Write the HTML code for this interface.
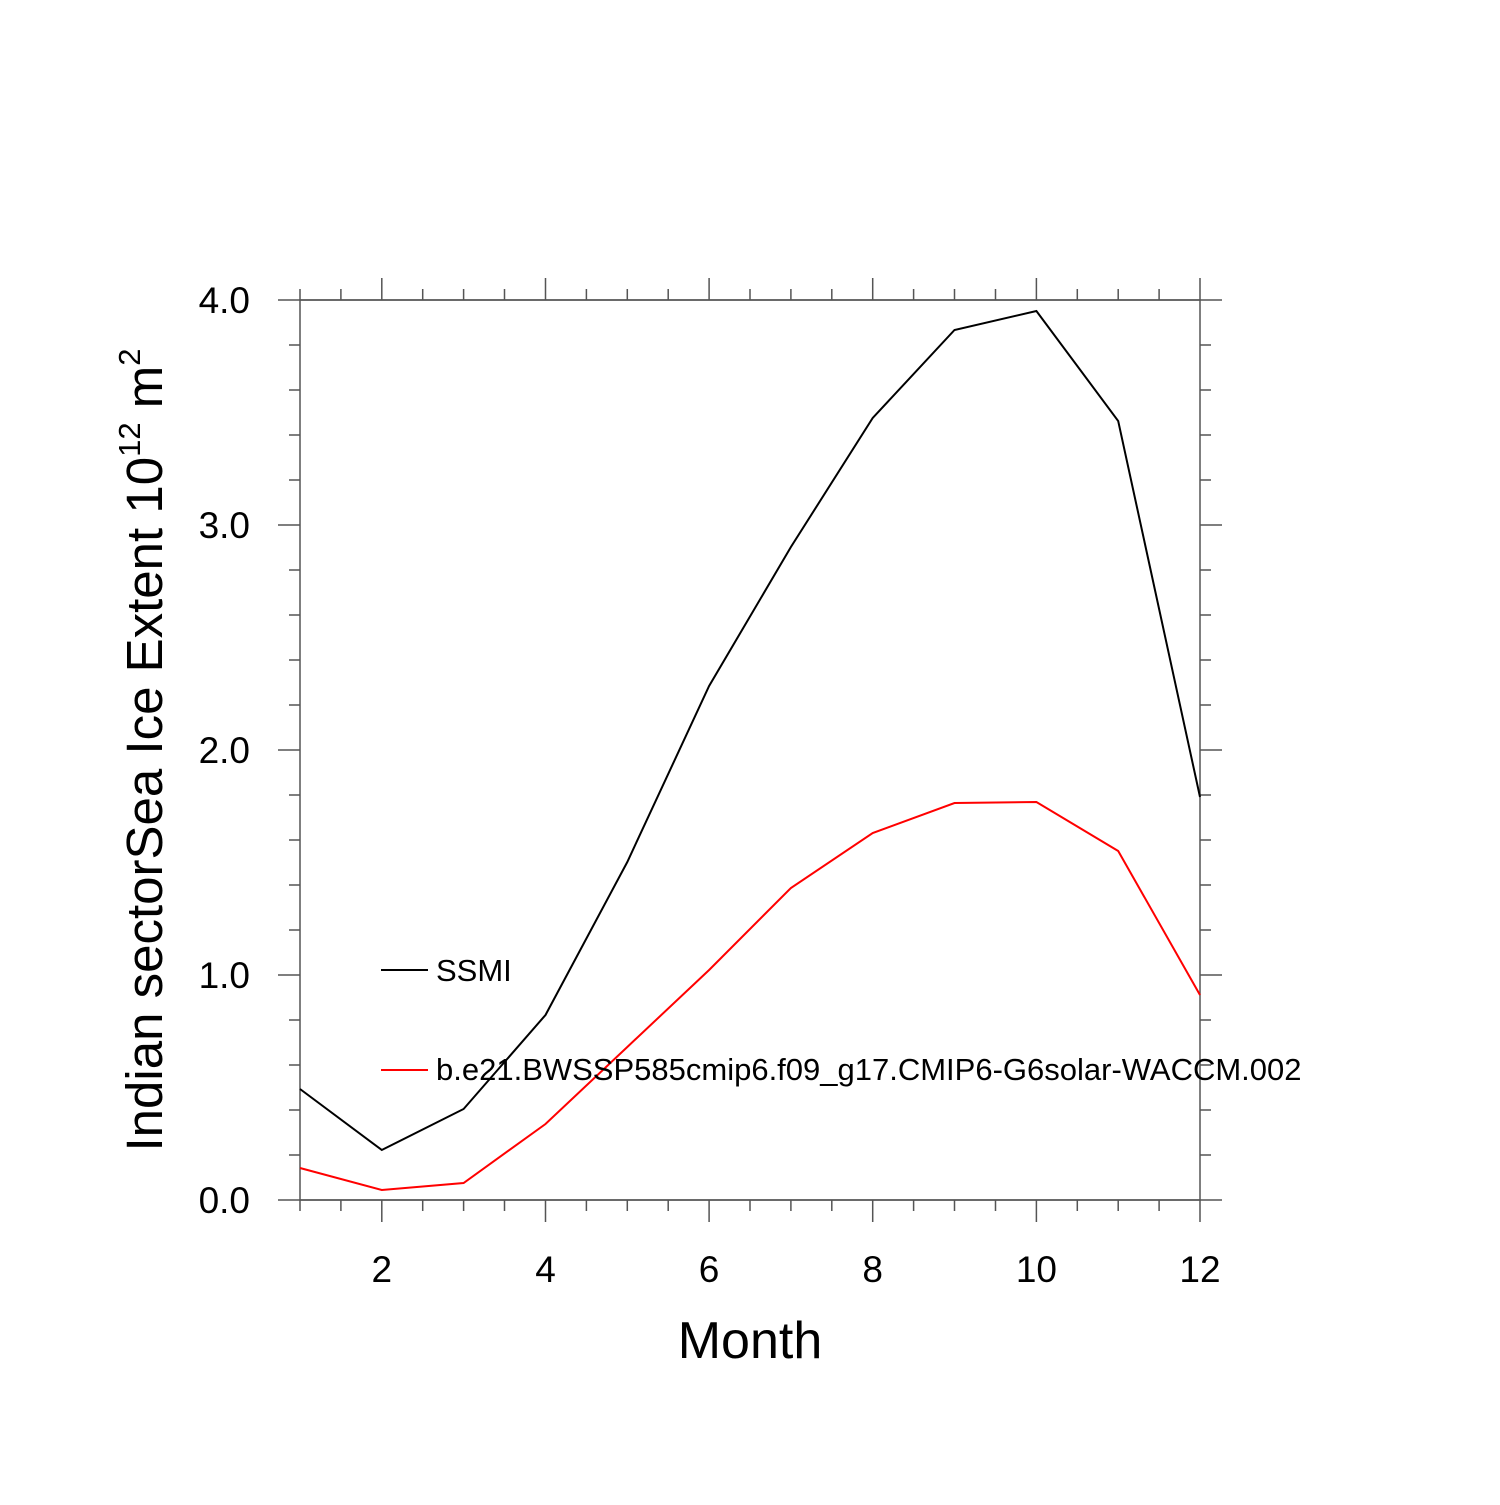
<!DOCTYPE html>
<html><head><style>body{margin:0;background:#fff}</style></head><body>
<svg width="1500" height="1500" xmlns="http://www.w3.org/2000/svg" font-family="Liberation Sans, sans-serif">
<rect width="1500" height="1500" fill="#fff"/>
<g stroke="#555" stroke-width="1.5" fill="none">
<rect x="300" y="300" width="900" height="900"/>
<path d="M278 300H1222M278 525H300M278 750H300M278 975H300M278 1200H1222M1200 525H1222M1200 750H1222M1200 975H1222
M381.8 278V300M545.5 278V300M709.1 278V300M872.7 278V300M1036.4 278V300M1200 278V300
M381.8 1200V1222M545.5 1200V1222M709.1 1200V1222M872.7 1200V1222M1036.4 1200V1222M1200 1200V1222
M300 289V300M340.9 289V300M422.7 289V300M463.6 289V300M504.5 289V300M586.4 289V300M627.3 289V300M668.2 289V300M750 289V300M790.9 289V300M831.8 289V300M913.6 289V300M954.5 289V300M995.5 289V300M1077.3 289V300M1118.2 289V300M1159.1 289V300
M300 1200V1211M340.9 1200V1211M422.7 1200V1211M463.6 1200V1211M504.5 1200V1211M586.4 1200V1211M627.3 1200V1211M668.2 1200V1211M750 1200V1211M790.9 1200V1211M831.8 1200V1211M913.6 1200V1211M954.5 1200V1211M995.5 1200V1211M1077.3 1200V1211M1118.2 1200V1211M1159.1 1200V1211
M289 345H300M289 390H300M289 435H300M289 480H300M289 570H300M289 615H300M289 660H300M289 705H300M289 795H300M289 840H300M289 885H300M289 930H300M289 1020H300M289 1065H300M289 1110H300M289 1155H300
M1200 345H1211M1200 390H1211M1200 435H1211M1200 480H1211M1200 570H1211M1200 615H1211M1200 660H1211M1200 705H1211M1200 795H1211M1200 840H1211M1200 885H1211M1200 930H1211M1200 1020H1211M1200 1065H1211M1200 1110H1211M1200 1155H1211"/>
</g>
<polyline fill="none" stroke="#000" stroke-width="2" points="300,1089 381.8,1150 463.6,1109 545.5,1015 627.3,862 709.1,686 790.9,547 872.7,418 954.5,330 1036.4,311 1118.2,421 1200,797"/>
<polyline fill="none" stroke="#f00" stroke-width="2" points="300,1168 381.8,1190 463.6,1183 545.5,1124 627.3,1047 709.1,970 790.9,888 872.7,833 954.5,803 1036.4,802 1118.2,851 1200,995"/>
<line x1="381" y1="970" x2="428" y2="970" stroke="#000" stroke-width="2"/>
<line x1="381" y1="1070" x2="428" y2="1070" stroke="#f00" stroke-width="2"/>
<g font-size="31" fill="#000">
<text x="436" y="981">SSMI</text>
<text x="436" y="1080">b.e21.BWSSP585cmip6.f09_g17.CMIP6-G6solar-WACCM.002</text>
</g>
<g font-size="37" fill="#000" text-anchor="end">
<text x="250" y="313">4.0</text><text x="250" y="538">3.0</text><text x="250" y="763">2.0</text><text x="250" y="988">1.0</text><text x="250" y="1213">0.0</text>
</g>
<g font-size="37" fill="#000" text-anchor="middle">
<text x="381.8" y="1282">2</text><text x="545.5" y="1282">4</text><text x="709.1" y="1282">6</text><text x="872.7" y="1282">8</text><text x="1036.4" y="1282">10</text><text x="1200" y="1282">12</text>
</g>
<text x="750" y="1358" font-size="52" text-anchor="middle">Month</text>
<text transform="translate(162,750) rotate(-90)" font-size="51" text-anchor="middle">Indian sectorSea Ice Extent 10<tspan font-size="31" dy="-22">12</tspan><tspan dy="22"> m</tspan><tspan font-size="31" dy="-22">2</tspan></text>
</svg>
</body></html>
